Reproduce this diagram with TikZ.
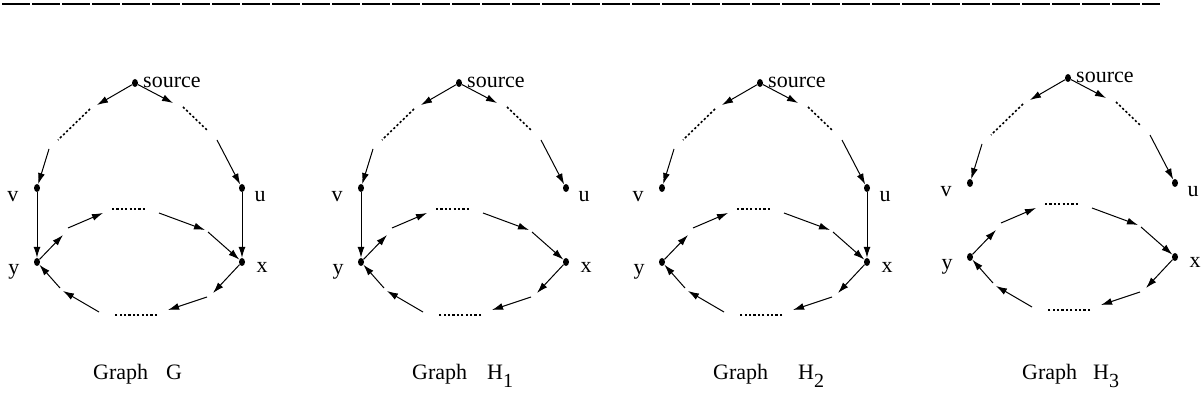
\documentclass[tikz,border=0pt]{standalone}
\usepackage{fontspec}
\setmainfont{Liberation Serif}
\usetikzlibrary{arrows.meta,shapes.geometric}
\tikzset{
  dotnode/.style={shape=ellipse, fill=black, inner sep=0pt, minimum width=6pt, minimum height=8pt},
  arr/.style={line width=1pt, -{Latex[length=11pt,width=7pt]}},
  dotl/.style={line width=1.6pt, dash pattern=on 2.2pt off 2.2pt},
  lbl/.style={font=\fontsize{22}{26}\selectfont, inner sep=0pt, anchor=base},
  captext/.style={font=\fontsize{22}{26}\selectfont, inner sep=0pt, anchor=base west},
  topline/.style={line width=1.6pt, dash pattern=on 28pt off 2pt}
}
\newcommand\drawmygraph[5]{%
  \begin{scope}[shift={(#2,#3)}]
    \node[dotnode] (#1s) at (135,83) {};
    \node[dotnode] (#1v) at (37,188) {};
    \node[dotnode] (#1u) at (242,188) {};
    \node[dotnode] (#1y) at (37,262) {};
    \node[dotnode] (#1x) at (242,262) {};
    \node[lbl, anchor=base west] (#1ls) at (143,88) {source};
    \node[lbl] (#1lv) at (13,202) {v};
    \node[lbl] (#1lu) at (260,202) {u};
    \node[lbl] (#1ly) at (14,275) {y};
    \node[lbl] (#1lx) at (262,273) {x};
    % outer coordinates
    \coordinate (#1a1) at (97,105);
    \coordinate (#1d1s) at (90,109);
    \coordinate (#1d1e) at (58,140);
    \coordinate (#1a2) at (49,149);
    \coordinate (#1a3) at (173,103);
    \coordinate (#1d2s) at (183,107);
    \coordinate (#1d2e) at (208,131);
    \coordinate (#1a4) at (217,140);
    % inner coordinates
    \coordinate (#1b1) at (63,235);
    \coordinate (#1b2) at (68,228);
    \coordinate (#1b3) at (103,213);
    \coordinate (#1d3s) at (112,209);
    \coordinate (#1d3e) at (147,209);
    \coordinate (#1b4) at (159,213);
    \coordinate (#1b5) at (205,230);
    \coordinate (#1b6) at (208,232);
    \coordinate (#1c1) at (213,293);
    \coordinate (#1c2) at (207,297);
    \coordinate (#1c3) at (168,310);
    \coordinate (#1d4s) at (157,315);
    \coordinate (#1d4e) at (114,315);
    \coordinate (#1c4) at (99,312);
    \coordinate (#1c5) at (63,291);
    \coordinate (#1c6) at (60,288);
    % outer branches
    \draw[arr] (#1s) -- (#1a1);
    \draw[dotl] (#1d1s) -- (#1d1e);
    \draw[arr] (#1a2) -- (#1v);
    \draw[arr] (#1s) -- (#1a3);
    \draw[dotl] (#1d2s) -- (#1d2e);
    \draw[arr] (#1a4) -- (#1u);
    \ifnum#4=1 \draw[arr] (#1v) -- (#1y); \fi
    \ifnum#5=1 \draw[arr] (#1u) -- (#1x); \fi
    % inner cycle
    \draw[arr] (#1y) -- (#1b1);
    \draw[arr] (#1b2) -- (#1b3);
    \draw[dotl] (#1d3s) -- (#1d3e);
    \draw[arr] (#1b4) -- (#1b5);
    \draw[arr] (#1b6) -- (#1x);
    \draw[arr] (#1x) -- (#1c1);
    \draw[arr] (#1c2) -- (#1c3);
    \draw[dotl] (#1d4s) -- (#1d4e);
    \draw[arr] (#1c4) -- (#1c5);
    \draw[arr] (#1c6) -- (#1y);
  \end{scope}%
}
\newcommand\lowsub[1]{\raisebox{-8pt}{\fontsize{20}{24}\selectfont #1}}
\begin{document}
\begin{tikzpicture}[x=1pt,y=-1pt]
  \useasboundingbox (0,0) rectangle (1203,403);
  \coordinate (tl0) at (2,4);
  \coordinate (tl1) at (1160,4);
  \draw[topline] (tl0) -- (tl1);
  \drawmygraph{G}{0}{0}{1}{1}
  \drawmygraph{Ha}{324}{0}{1}{0}
  \drawmygraph{Hb}{625}{0}{0}{1}
  \drawmygraph{Hc}{933}{-5}{0}{0}
  \node[captext] (capG) at (93,380) {Graph\hspace{18pt}G};
  \node[captext] (capHa) at (412,380) {Graph\hspace{20pt}H\lowsub{1}};
  \node[captext] (capHb) at (713,380) {Graph\hspace{30pt}H\lowsub{2}};
  \node[captext] (capHc) at (1022,380) {Graph\hspace{16pt}H\lowsub{3}};
\end{tikzpicture}
\end{document}
